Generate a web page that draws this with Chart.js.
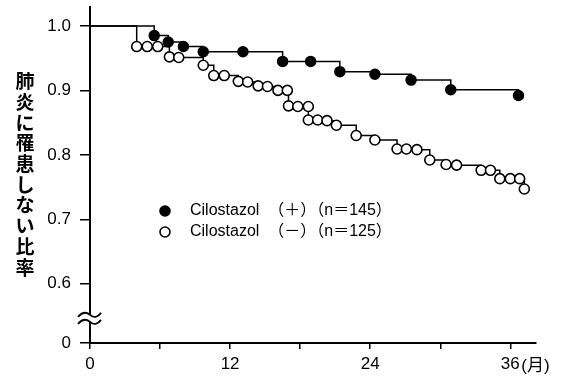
<!DOCTYPE html>
<html>
<head>
<meta charset="utf-8">
<script src="https://cdn.jsdelivr.net/npm/chart.js@4/dist/chart.umd.min.js"></script>
<style>
  html, body { margin: 0; padding: 0; background: #fff; }
  #box { width: 563px; height: 377px; position: relative; }
</style>
</head>
<body>
<div id="box"><canvas id="grafico"></canvas></div>
<script>
// valori (mesi, proporzione)
var mesiPiu = [0, 5.5, 6.7, 8.0, 9.7, 13.1, 16.5, 18.9, 21.4, 24.4, 27.5, 30.9, 36.7];
var valoriPiu = [1.0, 0.985, 0.975, 0.968, 0.960, 0.960, 0.945, 0.945, 0.929, 0.925, 0.916, 0.901, 0.892];

var mesiMeno = [0, 4.0, 4.9, 5.8, 6.8, 7.6, 9.7, 10.6, 11.5, 12.7, 13.5, 14.4, 15.2, 16.1, 16.9,
  17.0, 17.8, 18.7, 18.7, 19.5, 20.3, 21.1, 22.8, 24.4, 26.3, 27.1, 28.0, 29.1, 30.5, 31.4,
  33.5, 34.3, 35.1, 36.0, 36.8, 37.2];
var valoriMeno = [1.0, 0.968, 0.968, 0.968, 0.952, 0.951, 0.939, 0.923, 0.923, 0.914, 0.913, 0.907, 0.906, 0.900, 0.900,
  0.876, 0.875, 0.875, 0.854, 0.854, 0.853, 0.846, 0.830, 0.823, 0.809, 0.809, 0.808, 0.792, 0.785, 0.784,
  0.776, 0.776, 0.763, 0.763, 0.763, 0.747];

var labelPiu = 'Cilostazol  （＋）（n＝145）';
var labelMeno = 'Cilostazol  （－）（n＝125）';

var tickX = [0, 6, 12, 18, 24, 30, 36];
var etichetteX = ['0', '', '12', '', '24', '', '36'];
var tickY = [0.508, 0.6, 0.7, 0.8, 0.9, 1.0];
var etichetteY = ['0', '0.6', '0.7', '0.8', '0.9', '1.0'];
var titoloY = '肺炎に罹患しない比率';
var unitaX = '(月)';

var FONT = 'Liberation Sans, "Noto Sans CJK JP", Arial, sans-serif';

function punti(mesi, valori) {
  return mesi.map(function (m, i) { return { x: m, y: valori[i] }; });
}

// titolo verticale, legenda, simbolo di interruzione dell'asse
var decorazioni = {
  id: 'decorazioni',
  afterDraw: function (chart) {
    var ctx = chart.ctx;
    var sx = chart.scales.x;
    var sy = chart.scales.y;
    ctx.save();
    ctx.fillStyle = '#000';
    ctx.strokeStyle = '#000';

    // titolo asse y, un carattere sotto l'altro
    ctx.font = 'bold 19px "Noto Sans CJK JP", sans-serif';
    ctx.textAlign = 'center';
    ctx.textBaseline = 'middle';
    for (var i = 0; i < titoloY.length; i++) {
      ctx.fillText(titoloY[i], 25, 81 + i * 20.7);
    }

    // unita' dopo il 36
    ctx.font = '17px ' + FONT;
    ctx.textAlign = 'left';
    ctx.fillText(unitaX, sx.getPixelForValue(36) + 11, 366);

    // legenda
    ctx.font = '16px ' + FONT;
    chart.data.datasets.forEach(function (ds, k) {
      var yy = 211 + k * 21;
      ctx.beginPath();
      ctx.arc(165, yy, 5, 0, Math.PI * 2);
      ctx.fillStyle = ds.pointBackgroundColor;
      ctx.fill();
      ctx.lineWidth = 1.6;
      ctx.stroke();
      ctx.fillStyle = '#000';
      ctx.fillText(ds.label, 190, yy);
    });

    // interruzione asse y
    var xa = sx.left;
    var yb = sy.getPixelForValue(0.547);
    ctx.fillStyle = '#fff';
    ctx.fillRect(xa - 3, yb - 3, 6, 7);
    ctx.lineWidth = 1.8;
    [yb - 3, yb + 4].forEach(function (w) {
      ctx.beginPath();
      ctx.moveTo(xa - 12, w + 2);
      ctx.quadraticCurveTo(xa - 6, w - 5, xa, w);
      ctx.quadraticCurveTo(xa + 6, w + 5, xa + 11, w - 2);
      ctx.stroke();
    });
    ctx.restore();
  }
};

var grafico = new Chart(document.getElementById('grafico'), {
  type: 'line',
  data: {
    datasets: [{
      label: labelPiu,
      data: punti(mesiPiu, valoriPiu),
      stepped: 'before',
      borderColor: '#000',
      borderWidth: 1.5,
      pointBackgroundColor: '#000',
      pointBorderColor: '#000',
      pointBorderWidth: 1.5,
      pointRadius: function (c) { return c.dataIndex === 0 ? 0 : 5; }
    }, {
      label: labelMeno,
      data: punti(mesiMeno, valoriMeno),
      stepped: 'before',
      borderColor: '#000',
      borderWidth: 1.5,
      pointBackgroundColor: '#fff',
      pointBorderColor: '#000',
      pointBorderWidth: 1.6,
      pointRadius: function (c) { return c.dataIndex === 0 ? 0 : 5; }
    }]
  },
  options: {
    responsive: true,
    maintainAspectRatio: false,
    animation: false,
    layout: { padding: { left: 0, right: 27, top: 6, bottom: 0 } },
    plugins: { legend: { display: false }, tooltip: { enabled: false } },
    scales: {
      x: {
        type: 'linear',
        min: 0,
        max: 38.2,
        afterFit: function (s) { s.height = 34; s.paddingLeft = 0; s.paddingRight = 0; },
        afterBuildTicks: function (s) { s.ticks = tickX.map(function (v) { return { value: v }; }); },
        border: { color: '#000', width: 2 },
        grid: { drawOnChartArea: false, color: '#000', lineWidth: 1.5, tickLength: 6 },
        ticks: {
          color: '#000',
          padding: 5,
          maxRotation: 0,
          font: { family: FONT, size: 17 },
          callback: function (v) { return etichetteX[tickX.indexOf(v)]; }
        }
      },
      y: {
        min: 0.508,
        max: 1.03,
        afterFit: function (s) { s.width = 90; s.paddingTop = 0; s.paddingBottom = 0; },
        afterBuildTicks: function (s) { s.ticks = tickY.map(function (v) { return { value: v }; }); },
        border: { color: '#000', width: 2 },
        grid: { drawOnChartArea: false, color: '#000', lineWidth: 1.5, tickLength: 10 },
        ticks: {
          color: '#000',
          padding: 9,
          font: { family: FONT, size: 17 },
          callback: function (v) { return etichetteY[tickY.indexOf(v)]; }
        }
      }
    }
  },
  plugins: [decorazioni]
});
</script>
</body>
</html>
